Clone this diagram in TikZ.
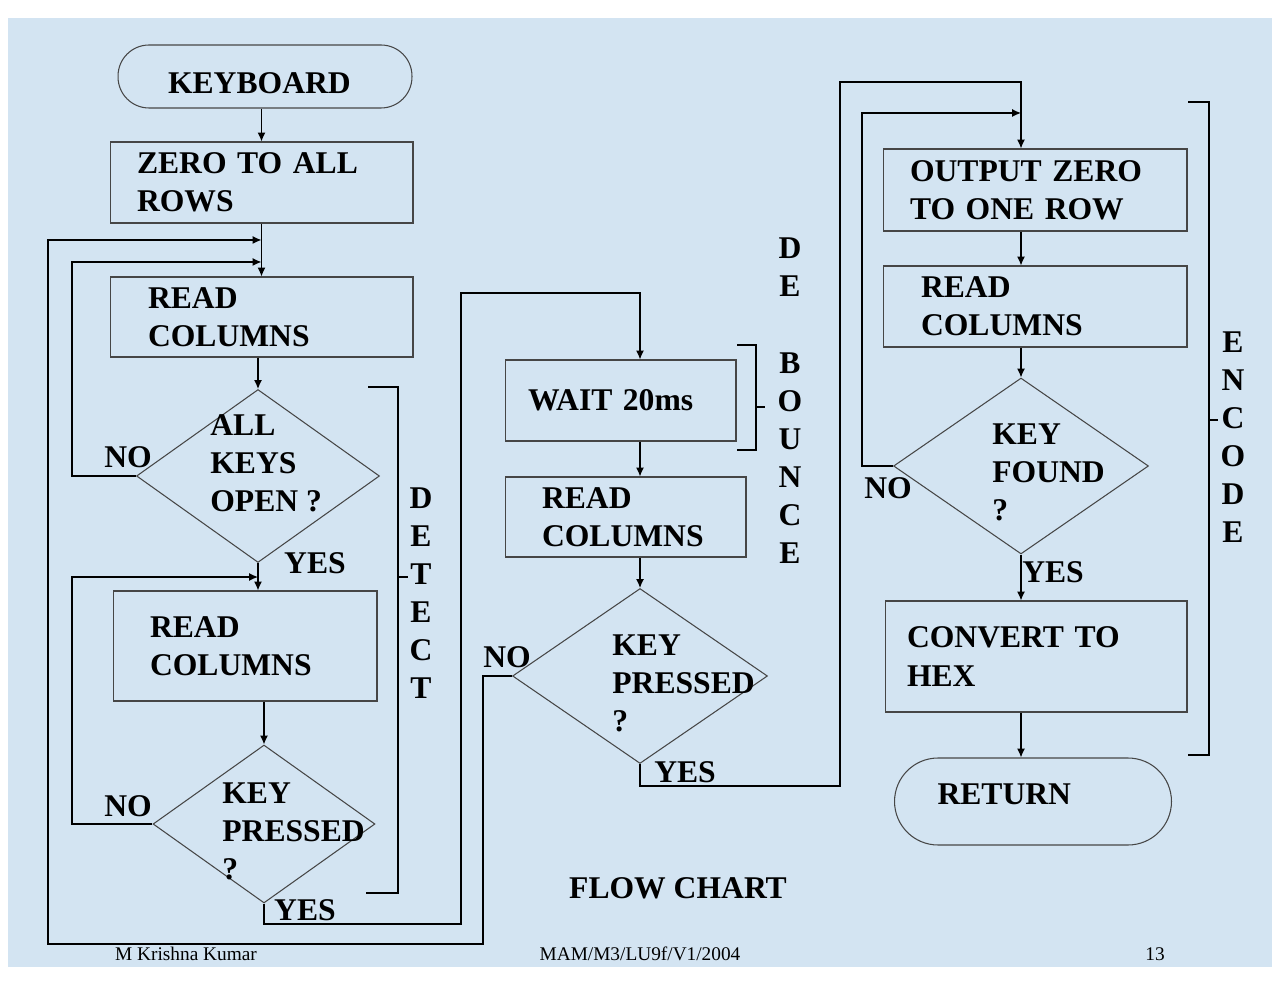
\documentclass[tikz,border=0pt]{standalone}
\usepackage{fontspec}
\setmainfont{Liberation Serif}
\usetikzlibrary{shapes.geometric,arrows.meta}
\definecolor{slide}{RGB}{211,228,242}
\definecolor{edge}{RGB}{70,70,70}

\begin{document}
\begin{tikzpicture}[x=0.02cm, y=-0.02cm,
  big/.style={font=\fontsize{18}{21.7}\selectfont\bfseries},
  box/.style={big, draw=edge, line width=0.6pt, rectangle, align=left, inner ysep=0pt},
  term/.style={big, draw=edge, line width=0.6pt, rectangle, align=left, inner ysep=0pt},
  dec/.style={draw=edge, line width=0.6pt, diamond, inner sep=0pt},
  dtext/.style={big, align=left, anchor=west, inner sep=0pt},
  lbl/.style={big, inner sep=0pt, align=center},
  foot/.style={font=\fontsize{11}{13}\selectfont, inner sep=0pt},
  arr/.style={-{Latex[length=5pt, width=4.5pt]}, line width=0.75pt},
  link/.style={line width=0.75pt}]
\useasboundingbox (0,0) rectangle (1280,999);
\fill[slide] (8,18) rectangle (1272,967);
\node[term, rounded corners=0.62cm, minimum width=5.88cm, minimum height=1.26cm, inner xsep=1.0cm, text width=3.88cm, text height=19pt, text depth=0pt] (kb) at (265,76.5) {KEYBOARD};
\node[box, minimum height=1.62cm, inner xsep=0.54cm, text width=4.98cm] (zero) at (261.5,182.5) {ZERO TO ALL\\ROWS};
\node[box, minimum height=1.6cm, inner xsep=0.76cm, text width=4.54cm] (read1) at (261.5,317) {READ\\COLUMNS};
\node[dec, minimum width=4.86cm, minimum height=3.46cm] (d1) at (258,476) {};
\node[dtext] (t1) at (210,463) {ALL\\KEYS\\OPEN ?};
\node[box, minimum height=2.2cm, inner xsep=0.74cm, text width=3.8cm] (read2) at (245,646) {READ\\COLUMNS};
\node[dec, minimum width=4.44cm, minimum height=3.16cm] (d2) at (264,824) {};
\node[dtext] (t2) at (222,831) {KEY\\PRESSED\\?};
\node[box, minimum height=1.62cm, inner xsep=0.46cm, text width=3.7cm] (wait) at (620.5,400.5) {WAIT 20ms};
\node[box, minimum height=1.6cm, inner xsep=0.74cm, text width=3.34cm] (read3) at (625.5,517) {READ\\COLUMNS};
\node[dec, minimum width=5.1cm, minimum height=3.5cm] (d3) at (640,676) {};
\node[dtext] (t3) at (612,683) {KEY\\PRESSED\\?};
\node[box, minimum height=1.64cm, inner xsep=0.54cm, text width=5.0cm] (out) at (1035,190) {OUTPUT ZERO\\TO ONE ROW};
\node[box, minimum height=1.62cm, inner xsep=0.76cm, text width=4.56cm] (read4) at (1035,306.5) {READ\\COLUMNS};
\node[dec, minimum width=5.1cm, minimum height=3.52cm] (d4) at (1021,466) {};
\node[dtext] (t4) at (992,472) {KEY\\FOUND\\?};
\node[box, minimum height=2.22cm, inner xsep=0.44cm, text width=5.16cm] (conv) at (1036,656.5) {CONVERT TO\\HEX};
\node[term, rounded corners=0.87cm, minimum width=5.54cm, minimum height=1.74cm, inner xsep=0.86cm, text width=3.82cm, text height=12pt, text depth=9pt] (ret) at (1033,801.5) {RETURN};
\node[lbl] (no1) at (128,457) {NO};
\node[lbl] (no2) at (128,806) {NO};
\node[lbl] (no3) at (507,657) {NO};
\node[lbl] (no4) at (888,488) {NO};
\node[lbl] (yes1) at (315,563) {YES};
\node[lbl] (yes2) at (305,910) {YES};
\node[lbl] (yes3) at (685,772) {YES};
\node[lbl] (yes4) at (1053,572) {YES};
\node[lbl] (detect) at (421,593) {D\\E\\T\\E\\C\\T};
\node[lbl] (debounce) at (790,401) {D\\E\\~\\B\\O\\U\\N\\C\\E};
\node[lbl] (encode) at (1233,437) {E\\N\\C\\O\\D\\E};
\node[lbl] (title) at (678,888) {FLOW CHART};
\node[foot] (author) at (186,954) {M Krishna Kumar};
\node[foot] (code) at (640,954) {MAM/M3/LU9f/V1/2004};
\node[foot] (page) at (1155,954) {13};
\coordinate (l1) at (72,262);
\coordinate (l2) at (72,577);
\coordinate (y1) at (461,924);
\coordinate (y2) at (461,293);
\coordinate (n1) at (483,944);
\coordinate (n2) at (48,240);
\coordinate (e1) at (840,786);
\coordinate (e2) at (840,82);
\coordinate (k1) at (862,113);
\draw[arr] (kb.south -| zero.north) -- (zero.north);
\draw[arr] (zero.south) -- (read1.north);
\draw[arr] (read1.south -| d1.north) -- (d1.north);
\draw[arr] (d1.west) -| (l1) -- (l1 -| read1.north);
\draw[arr] (d1.south) -- (d1.south |- read2.north);
\draw[arr] (d2.north |- read2.south) -- (d2.north);
\draw[arr] (d2.west) -| (l2) -- (l2 -| d1.south);
\draw[arr] (d2.south) |- (y1) -- (y2) -| (wait.north -| d3.north);
\draw[arr] (wait.south -| d3.north) -- (read3.north -| d3.north);
\draw[arr] (read3.south -| d3.north) -- (d3.north);
\draw[arr] (d3.west) -| (n1) -| (n2) -- (n2 -| read1.north);
\draw[arr] (d3.south) |- (e1) -- (e2) -| (out.north -| d4.north);
\draw[arr] (d4.west) -| (k1) -- (k1 -| d4.north);
\draw[arr] (out.south -| d4.north) -- (read4.north -| d4.north);
\draw[arr] (read4.south -| d4.north) -- (d4.north);
\draw[arr] (d4.south) -- (d4.south |- conv.north);
\draw[arr] (conv.south -| d4.north) -- (ret.north -| d4.north);
\draw[link] (368,387) -| (398,893) -- (366,893);
\draw[link] (398,577) -- (408,577);
\draw[link] (737,345) -| (756,450) -- (737,450);
\draw[link] (756,407) -- (765,407);
\draw[link] (1188,102) -| (1209,755) -- (1188,755);
\draw[link] (1209,420) -- (1218,420);
\end{tikzpicture}
\end{document}
